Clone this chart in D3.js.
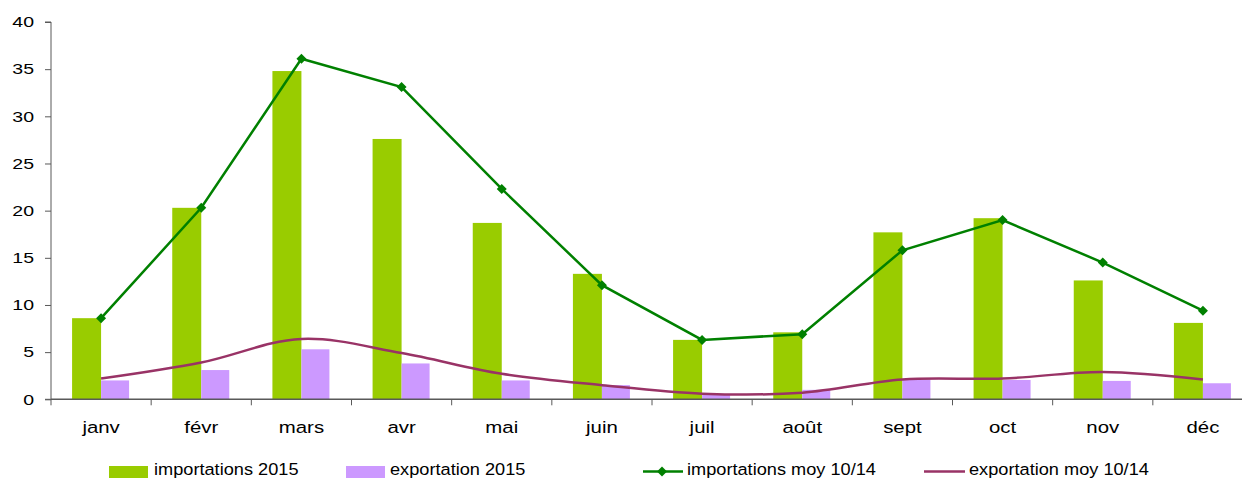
<!DOCTYPE html>
<html><head><meta charset="utf-8">
<script src="https://cdn.jsdelivr.net/npm/d3@7"></script>
<style>
html,body{margin:0;padding:0;background:#fff;}
svg{display:block;font-family:"Liberation Sans",Arial,sans-serif;}
</style></head>
<body>
<svg id="chart" width="1242" height="478"></svg>
<script>
const categories = ["janv","févr","mars","avr","mai","juin","juil","août","sept","oct","nov","déc"];
const imports2015 = [8.6,20.3,34.8,27.6,18.7,13.3,6.3,7.1,17.7,19.2,12.6,8.1];
const exports2015 = [2.0,3.1,5.3,3.8,2.0,1.5,0.5,1.0,2.1,2.05,1.95,1.7];
const importsAvg = [8.6,20.3,36.1,33.1,22.3,12.1,6.3,6.9,15.8,19.0,14.5,9.4];
const exportsAvg = [2.2,3.9,6.4,4.9,2.7,1.5,0.6,0.7,2.1,2.2,2.9,2.1];
const yTicks = [0,5,10,15,20,25,30,35,40];
const seriesNames = ["importations 2015","exportation 2015","importations moy 10/14","exportation moy 10/14"];

const svg = d3.select("#chart");
const x0 = 51, x1 = 1253, yTop = 22, yBot = 399.3;
const x = d3.scaleBand().domain(categories).range([x0, x1]);
const y = d3.scaleLinear().domain([0,40]).range([yBot, yTop]);
const bw = 29;
const axisCol = "#595959";

// bars
svg.append("g").selectAll("rect").data(imports2015).join("rect")
  .attr("x",(d,i)=>x(categories[i])+x.bandwidth()/2-bw)
  .attr("y",d=>y(d)).attr("width",bw).attr("height",d=>yBot-y(d))
  .attr("fill","#99CC00");
svg.append("g").selectAll("rect").data(exports2015).join("rect")
  .attr("x",(d,i)=>x(categories[i])+x.bandwidth()/2)
  .attr("y",d=>y(d)).attr("width",bw-1).attr("height",d=>yBot-y(d))
  .attr("fill","#CC99FF");

// y axis
const yAxis = d3.axisLeft(y).tickValues(yTicks).tickSize(6).tickPadding(11);
const gy = svg.append("g").attr("transform",`translate(${x0},0)`).call(yAxis);
gy.selectAll("line").attr("stroke",axisCol);
gy.select(".domain").attr("stroke",axisCol).attr("d",`M-6,${yTop}H0V${yBot}H-6`);
gy.selectAll(".tick text").each(function(){
  const t = d3.select(this);
  const xx = +t.attr("x");
  t.attr("x",0).attr("transform",`translate(${xx},0) scale(1.3,1)`)
   .attr("font-size","15px").attr("fill","#000").attr("font-family","Liberation Sans, Arial, sans-serif");
});

// x axis
const gx = svg.append("g").attr("transform",`translate(0,${yBot})`);
gx.append("line").attr("x1",x0).attr("x2",1242).attr("stroke",axisCol).attr("stroke-width",1.5);
const bounds = d3.range(categories.length+1).map(i => x0 + i*x.step());
gx.selectAll("line.t").data(bounds).join("line").attr("class","t")
  .attr("x1",d=>d).attr("x2",d=>d).attr("y1",0).attr("y2",6).attr("stroke",axisCol);
gx.selectAll("text").data(categories).join("text")
  .attr("transform",d=>`translate(${x(d)+x.bandwidth()/2},33.5) scale(1.2,1)`)
  .attr("text-anchor","middle").attr("font-size","17px").attr("fill","#000")
  .text(d=>d);

// lines
const cx = (d,i)=>x(categories[i])+x.bandwidth()/2;
const lineStraight = d3.line().x(cx).y(d=>y(d));
const lineSmooth = d3.line().x(cx).y(d=>y(d)).curve(d3.curveCatmullRom.alpha(0.5));
svg.append("path").datum(exportsAvg).attr("d",lineSmooth).attr("fill","none")
  .attr("stroke","#993366").attr("stroke-width",2.5);
svg.append("path").datum(importsAvg).attr("d",lineStraight).attr("fill","none")
  .attr("stroke","#008000").attr("stroke-width",2.5);
const diamond = "M0,-5L5,0L0,5L-5,0Z";
svg.append("g").selectAll("path").data(importsAvg).join("path")
  .attr("transform",(d,i)=>`translate(${cx(d,i)},${y(d)})`)
  .attr("d",diamond).attr("fill","#008000");

// legend
const lg = svg.append("g").attr("font-size","17px").attr("fill","#000");
const legText = (xx, s) => lg.append("text").attr("transform",`translate(${xx},474.5) scale(1.07,1)`).text(s);
lg.append("rect").attr("x",109).attr("y",466).attr("width",39).attr("height",12).attr("fill","#99CC00");
legText(154, seriesNames[0]);
lg.append("rect").attr("x",346).attr("y",466).attr("width",39).attr("height",12).attr("fill","#CC99FF");
legText(390, seriesNames[1]);
lg.append("line").attr("x1",643).attr("x2",683).attr("y1",471.5).attr("y2",471.5).attr("stroke","#008000").attr("stroke-width",2.5);
lg.append("path").attr("transform","translate(662,471.5)").attr("d",diamond).attr("fill","#008000");
legText(687, seriesNames[2]);
lg.append("line").attr("x1",924).attr("x2",965).attr("y1",471.5).attr("y2",471.5).attr("stroke","#993366").attr("stroke-width",2.5);
legText(969, seriesNames[3]);
</script>
</body></html>
